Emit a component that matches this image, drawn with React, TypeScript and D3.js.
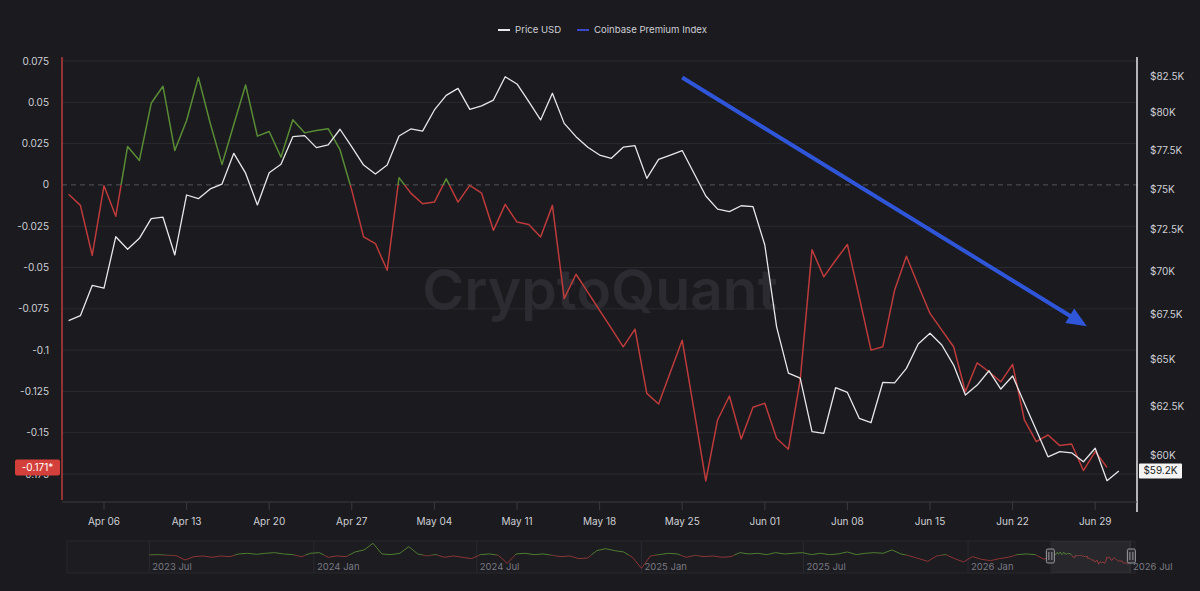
import React from 'react';
import * as d3 from 'd3';

const W = 1200;
const H = 591;
const FONT = 'Inter, Roboto, "Noto Sans", sans-serif';

// ---------- data ----------
const startDate = new Date(2026, 3, 3); // Apr 03 2026, daily points

const priceUSD = [
  67170, 67450, 69190, 69030, 72080, 71320, 71980, 73180, 73270, 70980,
  74650, 74420, 75030, 75340, 77310, 76030, 74030, 76060, 76600, 78400,
  78470, 77680, 77860, 78890, 77730, 76550, 75980, 76550, 78440, 78910,
  78770, 80180, 81170, 81650, 80220, 80450, 80850, 82450, 81950, 80740,
  79510, 81310, 79280, 78400, 77710, 77200, 76990, 77710, 77810, 75700,
  76920, 77200, 77490, 76030, 74590, 73770, 73610, 73980, 73920, 71580,
  66820, 64270, 64000, 61190, 61100, 63490, 63240, 61880, 61650, 63780,
  63750, 64530, 65870, 66460, 65810, 64710, 63100, 63630, 64400, 63420,
  64120, 62670, 61270, 59910, 60170, 60110, 59660, 60340, 58720, 59200,
];

const premiumIndex = [
  -0.0057, -0.0124, -0.0426, -0.0005, -0.019, 0.0233, 0.0148, 0.0494, 0.0597, 0.0208,
  0.039, 0.0651, 0.0373, 0.0124, 0.0366, 0.0605, 0.0295, 0.0323, 0.0168, 0.0394,
  0.0315, 0.0329, 0.034, 0.0213, -0.0033, -0.0315, -0.0355, -0.0517, 0.0044, -0.005,
  -0.0114, -0.0104, 0.0037, -0.0104, -0.0003, -0.005, -0.0275, -0.0118, -0.0225, -0.024,
  -0.0315, -0.0124, -0.0688, -0.0541, -0.0649, -0.076, -0.0868, -0.098, -0.0873, -0.1262,
  -0.1326, -0.1133, -0.094, -0.1363, -0.1792, -0.1423, -0.1278, -0.1538, -0.1346, -0.1322,
  -0.1534, -0.16, -0.1181, -0.0392, -0.0557, -0.0456, -0.0361, -0.0678, -0.1, -0.098,
  -0.0637, -0.0432, -0.0607, -0.0778, -0.0879, -0.098, -0.1252, -0.1077, -0.1131, -0.1192,
  -0.1086, -0.1423, -0.1554, -0.1514, -0.1578, -0.1568, -0.1729, -0.1614, -0.171,
];

const leftTicks = [0.075, 0.05, 0.025, 0, -0.025, -0.05, -0.075, -0.1, -0.125, -0.15, -0.175];
const leftTickLabels = ['0.075', '0.05', '0.025', '0', '-0.025', '-0.05', '-0.075', '-0.1', '-0.125', '-0.15', '-0.175'];
const rightTicks = [82500, 80000, 77500, 75000, 72500, 70000, 67500, 65000, 62500, 60000];
const rightTickLabels = ['$82.5K', '$80K', '$77.5K', '$75K', '$72.5K', '$70K', '$67.5K', '$65K', '$62.5K', '$60K'];

const legendItems = ['Price USD', 'Coinbase Premium Index'];

// navigator history: premium index every 10 days from Jul 01 2023
const navStart = new Date(2023, 6, 1);
const navHistory = [
  0.007, 0.013, 0, -0.007, -0.093, -0.027, -0.013, -0.04, -0.013, -0.027,
  0.027, 0.04, 0.02, 0.04, 0.053, 0.027, 0.013, -0.027, 0.04, 0.053,
  -0.04, -0.013, -0.027, 0.067, 0.107, 0.24, 0.027, 0.013, 0.04, 0.173,
  0.027, -0.013, 0.013, -0.04, -0.013, -0.04, -0.067, 0.013, 0.027, 0,
  -0.16, 0.027, 0.04, 0.013, 0.027, 0, -0.027, -0.013, -0.067, -0.053,
  0.093, 0.133, 0.093, 0.067, -0.04, -0.26, -0.013, 0.013, 0.04, 0.027,
  -0.04, 0, -0.027, -0.013, -0.04, -0.027, 0.053, 0.027, 0.04, 0.013,
  0.053, 0.027, 0.04, 0.053, 0.013, 0.04, 0.013, 0.027, 0.067, 0.013,
  0.04, 0.053, 0.04, 0.107, 0.027, -0.013, -0.067, -0.12, -0.013, 0.013,
  -0.067, -0.133, -0.027, -0.08, -0.107, -0.067, -0.04, 0.013, 0.027, 0.013,
  -0.08,
];
const navLabelDates = [
  new Date(2023, 6, 1), new Date(2024, 0, 1), new Date(2024, 6, 1),
  new Date(2025, 0, 1), new Date(2025, 6, 1), new Date(2026, 0, 1), new Date(2026, 6, 1),
];

// annotation arrow in data coordinates
const arrowStart = { date: new Date(2026, 4, 25), value: 0.065 };
const arrowEnd = { date: new Date(2026, 5, 28, 7), value: -0.0855 };

// ---------- layout ----------
const PL = 62;
const PR = 1137;
const COLORS = {
  bg: '#1a1a1f',
  grid: '#2a2a31',
  text: '#cfcfd4',
  green: '#5a8c36',
  red: '#bd3b3b',
  white: '#e8e8ea',
  blue: '#2f55d8',
};

export default function App() {
  const dates = priceUSD.map((_, i) => d3.timeDay.offset(startDate, i));

  const x = d3
    .scaleTime()
    .domain([new Date(2026, 3, 2, 10, 35), new Date(2026, 6, 2, 13, 0)])
    .range([PL, PR]);
  const yL = d3.scaleLinear().domain([0.075, -0.175]).range([61, 474]);
  const yR = d3.scaleLog().domain([82500, 60000]).range([76, 455]);

  const premLine = d3
    .line<number>()
    .x((_, i) => x(dates[i]))
    .y((d) => yL(d));
  const priceLine = d3
    .line<number>()
    .x((_, i) => x(dates[i]))
    .y((d) => yR(d));

  const y0 = yL(0);

  const xTicks = d3.timeMonday.range(startDate, x.domain()[1]);
  const fmt = d3.timeFormat('%b %d');

  // navigator
  const navX = d3.scaleTime().domain([new Date(2023, 6, 1), new Date(2026, 6, 1)]).range([149.3, 1130]);
  const navY = d3.scaleLinear().domain([0, -0.2]).range([555.3, 565.3]);
  const navDates = navHistory.map((_, k) => d3.timeDay.offset(navStart, 10 * k)).concat(dates.slice(0, premiumIndex.length));
  const navVals = navHistory.concat(premiumIndex);
  const navLine = d3
    .line<number>()
    .x((_, i) => navX(navDates[i]))
    .y((d) => navY(d));
  const navY0 = navY(0);
  const hA = navX(startDate);
  const hB = navX(x.domain()[1]);

  // arrow
  const ax1 = x(arrowStart.date);
  const ay1 = yL(arrowStart.value);
  const ax2 = x(arrowEnd.date);
  const ay2 = yL(arrowEnd.value);
  const len = Math.hypot(ax2 - ax1, ay2 - ay1);
  const ux = (ax2 - ax1) / len;
  const uy = (ay2 - ay1) / len;
  const headL = 20;
  const headW = 8.5;
  const bx = ax2 - ux * headL;
  const by = ay2 - uy * headL;
  const head = `${ax2},${ay2} ${bx - uy * headW},${by + ux * headW} ${bx + uy * headW},${by - ux * headW}`;

  const lastPrice = priceUSD[priceUSD.length - 1];
  const lastPrem = premiumIndex[premiumIndex.length - 1];

  return (
    <svg
      width={W}
      height={H}
      style={{ position: 'absolute', left: 0, top: 0, display: 'block' }}
      fontFamily={FONT}
    >
      <defs>
        <clipPath id="above">
          <rect x={PL} y={0} width={PR - PL} height={y0} />
        </clipPath>
        <clipPath id="below">
          <rect x={PL} y={y0} width={PR - PL} height={H - y0} />
        </clipPath>
        <clipPath id="navAbove">
          <rect x={0} y={0} width={W} height={navY0} />
        </clipPath>
        <clipPath id="navBelow">
          <rect x={0} y={navY0} width={W} height={H - navY0} />
        </clipPath>
      </defs>
      <rect width={W} height={H} fill={COLORS.bg} />

      {/* legend */}
      <g fontSize={9.6} fill={COLORS.text}>
        <line x1={498} x2={510} y1={30} y2={30} stroke={COLORS.white} strokeWidth={2} />
        <text x={515} y={33.4}>{legendItems[0]}</text>
        <line x1={577} x2={589} y1={30} y2={30} stroke="#3c46c8" strokeWidth={2} />
        <text x={594} y={33.4}>{legendItems[1]}</text>
      </g>

      {/* gridlines */}
      {leftTicks.map((t) =>
        t === 0 ? null : (
          <line key={t} x1={PL} x2={PR} y1={yL(t)} y2={yL(t)} stroke={COLORS.grid} strokeWidth={1} />
        )
      )}
      <line x1={PL} x2={PR} y1={y0} y2={y0} stroke="#55555c" strokeWidth={1} strokeDasharray="5,4" />

      {/* watermark */}
      <text x={600} y={310} textAnchor="middle" fontSize={57} fontWeight={600} fill="#2b2b31">
        CryptoQuant
      </text>

      {/* premium index */}
      <path d={premLine(premiumIndex) || ''} fill="none" stroke={COLORS.green} strokeWidth={1.5} clipPath="url(#above)" strokeLinejoin="round" />
      <path d={premLine(premiumIndex) || ''} fill="none" stroke={COLORS.red} strokeWidth={1.5} clipPath="url(#below)" strokeLinejoin="round" />

      {/* price */}
      <path d={priceLine(priceUSD) || ''} fill="none" stroke={COLORS.white} strokeWidth={1.3} strokeLinejoin="round" />

      {/* arrow */}
      <line x1={ax1} y1={ay1} x2={bx + ux * 2} y2={by + uy * 2} stroke={COLORS.blue} strokeWidth={4} />
      <polygon points={head} fill={COLORS.blue} />

      {/* axes lines */}
      <line x1={PL} x2={PL} y1={57} y2={500} stroke={COLORS.red} strokeWidth={1.5} />
      <line x1={PR} x2={PR} y1={57} y2={512} stroke={COLORS.white} strokeWidth={1.5} />

      {/* left labels */}
      <g fontSize={10} fill={COLORS.text} textAnchor="end">
        {leftTicks.map((t, i) => (
          <text key={t} x={49} y={yL(t)} dy="0.35em">
            {leftTickLabels[i]}
          </text>
        ))}
      </g>
      {/* right labels */}
      <g fontSize={10} fill={COLORS.text}>
        {rightTicks.map((t, i) => (
          <text key={t} x={1150} y={yR(t)} dy="0.35em">
            {rightTickLabels[i]}
          </text>
        ))}
      </g>

      {/* last value boxes */}
      <rect x={15} y={yL(lastPrem) - 8} width={45} height={16} rx={2} fill="#d3403b" />
      <text x={37.5} y={yL(lastPrem)} dy="0.35em" textAnchor="middle" fontSize={10} fill="#ffffff">
        {`${lastPrem.toFixed(3)}*`}
      </text>
      <rect x={1139} y={yR(lastPrice) - 7.5} width={43} height={15} rx={1} fill="#f4f4f4" />
      <text x={1160.5} y={yR(lastPrice)} dy="0.35em" textAnchor="middle" fontSize={10} fill="#222">
        {`$${(lastPrice / 1000).toFixed(1)}K`}
      </text>

      {/* x axis */}
      <line x1={PL} x2={PR} y1={502} y2={502} stroke="#3a3a41" strokeWidth={1} />
      <g fontSize={10} fill={COLORS.text} textAnchor="middle">
        {xTicks.map((t) => (
          <g key={+t}>
            <line x1={x(t)} x2={x(t)} y1={502} y2={510} stroke="#3a3a41" />
            <text x={x(t)} y={525}>
              {fmt(t)}
            </text>
          </g>
        ))}
      </g>

      {/* navigator */}
      <rect x={67} y={541} width={1068} height={32} fill="#1c1c21" stroke="#26262c" strokeWidth={1} />
      {navLabelDates.map((d) => (
        <g key={+d}>
          <line x1={navX(d)} x2={navX(d)} y1={541} y2={573} stroke="#2a2a31" />
          <text x={navX(d) + 3} y={570} fontSize={9.5} fill="#7a7a82">
            {d3.timeFormat('%Y %b')(d)}
          </text>
        </g>
      ))}
      <path d={navLine(navVals) || ''} fill="none" stroke="#4f7d31" strokeWidth={1} clipPath="url(#navAbove)" />
      <path d={navLine(navVals) || ''} fill="none" stroke="#8f3535" strokeWidth={1} clipPath="url(#navBelow)" />
      <rect x={hA} y={541} width={hB - hA} height={32} fill="rgba(255,255,255,0.05)" />
      {[hA, hB].map((hx) => (
        <g key={hx}>
          <rect x={hx - 4} y={549} width={8} height={14} rx={1.5} fill="#2c2c31" stroke="#9a9aa0" strokeWidth={1} />
          <line x1={hx - 1.5} x2={hx - 1.5} y1={552} y2={560} stroke="#9a9aa0" />
          <line x1={hx + 1.5} x2={hx + 1.5} y1={552} y2={560} stroke="#9a9aa0" />
        </g>
      ))}
    </svg>
  );
}
